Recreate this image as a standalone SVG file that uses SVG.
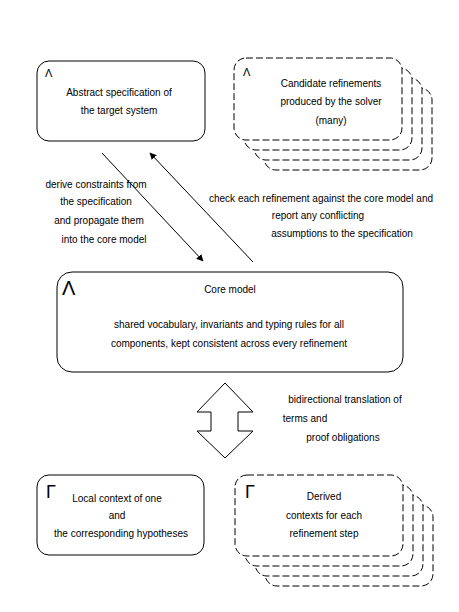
<svg xmlns="http://www.w3.org/2000/svg" width="459" height="612" viewBox="0 0 459 612">
<style>
  .box { fill: #fff; stroke: #000; stroke-width: 1; }
  .dbox { fill: #fff; stroke: #000; stroke-width: 1; stroke-dasharray: 7 3; }
  .t { font-family: "Liberation Sans", Arial, sans-serif; font-size: 10px; fill: #000; text-anchor: middle; }
  .sym { font-family: "Liberation Sans", Arial, sans-serif; fill: #000; }
  .conn { stroke: #000; stroke-width: 1; fill: none; }
</style>
<defs>
  <marker id="ah" viewBox="0 0 10 10" refX="9" refY="5" markerWidth="7" markerHeight="7" orient="auto" markerUnits="userSpaceOnUse">
    <path d="M0,0 L10,5 L0,10 z" fill="#000"/>
  </marker>
</defs>
<rect width="459" height="612" fill="#fff"/>

<g id="node-top-left">
  <rect class="box" x="37" y="61" width="168" height="80" rx="12"/>
  <text class="sym" x="45" y="77" font-size="11">Λ</text>
  <text class="t" x="119" y="96">Abstract specification of</text>
  <text class="t" x="119" y="114">the target system</text>
</g>

<g id="node-top-right">
  <rect class="dbox" x="264" y="88" width="168" height="82" rx="12"/>
  <rect class="dbox" x="254" y="78" width="168" height="82" rx="12"/>
  <rect class="dbox" x="244" y="68" width="168" height="82" rx="12"/>
  <rect class="dbox" x="234" y="58" width="168" height="82" rx="12"/>
  <text class="sym" x="243" y="76" font-size="11">Λ</text>
  <text class="t" x="331" y="86.5">Candidate refinements</text>
  <text class="t" x="331" y="105">produced by the solver</text>
  <text class="t" x="331" y="123.5">(many)</text>
</g>

<g id="node-middle">
  <rect class="box" x="57" y="272" width="346" height="100" rx="15"/>
  <text class="sym" x="62" y="295" font-size="20">Λ</text>
  <text class="t" x="230" y="293">Core model</text>
  <text class="t" x="229" y="328">shared vocabulary, invariants and typing rules for all</text>
  <text class="t" x="229" y="347">components, kept consistent across every refinement</text>
</g>

<g id="node-bottom-left">
  <rect class="box" x="37" y="475" width="167" height="80" rx="12"/>
  <text class="sym" x="46" y="498" font-size="18">Γ</text>
  <text class="t" x="117" y="502">Local context of one</text>
  <text class="t" x="117" y="518.5">and</text>
  <text class="t" x="121" y="537">the corresponding hypotheses</text>
</g>

<g id="node-bottom-right">
  <rect class="dbox" x="265" y="505" width="168" height="81" rx="12"/>
  <rect class="dbox" x="255" y="495" width="168" height="81" rx="12"/>
  <rect class="dbox" x="245" y="485" width="168" height="81" rx="12"/>
  <rect class="dbox" x="235" y="475" width="168" height="81" rx="12"/>
  <text class="sym" x="245" y="498" font-size="18">Γ</text>
  <text class="t" x="324" y="500">Derived</text>
  <text class="t" x="324" y="519">contexts for each</text>
  <text class="t" x="324" y="537">refinement step</text>
</g>

<g id="connectors">
  <line class="conn" x1="102" y1="153" x2="203" y2="261" marker-end="url(#ah)"/>
  <line class="conn" x1="253" y1="262" x2="150" y2="153" marker-end="url(#ah)"/>
  <polygon class="conn" points="225,383 253,412 238,412 238,431 253,431 225,458 197,431 211,431 211,412 197,412"/>
</g>

<g id="labels">
  <text class="t" x="96" y="187.5">derive constraints from</text>
  <text class="t" x="96" y="205">the specification</text>
  <text class="t" x="99" y="224">and propagate them</text>
  <text class="t" x="104" y="243">into the core model</text>

  <text class="t" x="321" y="202">check each refinement against the core model and</text>
  <text class="t" x="318" y="218.5">report any conflicting</text>
  <text class="t" x="342" y="237">assumptions to the specification</text>

  <text class="t" x="345" y="403">bidirectional translation of</text>
  <text class="t" x="305" y="422">terms and</text>
  <text class="t" x="343" y="441">proof obligations</text>
</g>
</svg>
